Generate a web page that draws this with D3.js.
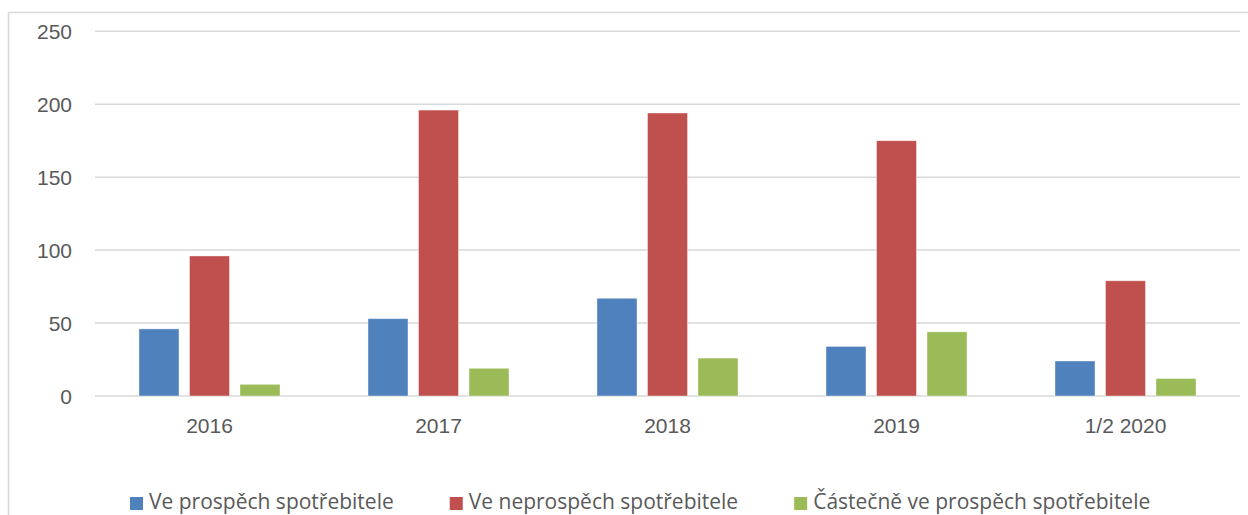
<!DOCTYPE html>
<html>
<head>
<meta charset="utf-8">
<script src="https://cdn.jsdelivr.net/npm/d3@7"></script>
<style>
    html, body { margin: 0; padding: 0; background: #fff; }
    svg { display: block; font-family: "Open Sans", sans-serif; }
    .grid line { stroke: #d9d9d9; stroke-width: 1.5; }
    .label { fill: #595959; font-size: 21px; }
</style>
</head>
<body>
<div id="chart"></div>
<script>
// Data
const categories = ['2016', '2017', '2018', '2019', '1/2 2020'];
const seriesNames = ['Ve prospěch spotřebitele', 'Ve neprospěch spotřebitele', 'Částečně ve prospěch spotřebitele'];
const inFavour = [46, 53, 67, 34, 24];
const against = [96, 196, 194, 175, 79];
const partly = [8, 19, 26, 44, 12];
const yTicks = [0, 50, 100, 150, 200, 250];
const colors = ['#4f81bd', '#c0504d', '#9bbb59'];

document.addEventListener('DOMContentLoaded', () => {
    const width = 1248;
    const height = 515;
    const margin = { left: 95, right: 8, top: 31.3, bottom: 119 };

    const svg = d3.select('#chart')
        .append('svg')
        .attr('width', width)
        .attr('height', height);

    // Outer chart border (runs off the bottom and right of the picture)
    svg.append('rect')
        .attr('x', 8.5)
        .attr('y', 12.5)
        .attr('width', width + 20)
        .attr('height', height + 20)
        .attr('fill', 'none')
        .attr('stroke', '#d9d9d9')
        .attr('stroke-width', 1.5);

    const values = [inFavour, against, partly];
    const rows = categories.map((c, i) => ({
        category: c,
        bars: seriesNames.map((s, j) => ({ series: s, value: values[j][i], idx: j }))
    }));

    const x0 = d3.scaleBand()
        .domain(categories)
        .range([margin.left, width - margin.right])
        .padding(0);

    const x1 = d3.scaleBand()
        .domain(seriesNames)
        .range([0, x0.bandwidth()])
        .paddingInner(0.208)
        .paddingOuter(0.871);

    const y = d3.scaleLinear()
        .domain([0, 250])
        .range([height - margin.bottom, margin.top]);

    // Gridlines
    svg.append('g')
        .attr('class', 'grid')
        .selectAll('line')
        .data(yTicks)
        .join('line')
        .attr('x1', margin.left)
        .attr('x2', width - margin.right)
        .attr('y1', d => y(d))
        .attr('y2', d => y(d));

    // Y axis labels
    const yAxis = d3.axisLeft(y).tickValues(yTicks).tickSize(0).tickPadding(23);
    svg.append('g')
        .attr('transform', `translate(${margin.left},0)`)
        .call(yAxis)
        .call(g => g.select('.domain').remove())
        .call(g => g.selectAll('text')
            .attr('class', 'label')
            .attr('font-family', null)
            .attr('font-size', null)
            .attr('fill', null)
            .attr('dy', '0.35em'));

    // Bars
    const group = svg.append('g')
        .selectAll('g')
        .data(rows)
        .join('g')
        .attr('transform', d => `translate(${x0(d.category)},0)`);

    group.selectAll('rect')
        .data(d => d.bars)
        .join('rect')
        .attr('x', d => x1(d.series))
        .attr('y', d => y(d.value))
        .attr('width', x1.bandwidth())
        .attr('height', d => y(0) - y(d.value))
        .attr('fill', d => colors[d.idx])
        .attr('stroke', 'rgba(255,255,255,0.5)')
        .attr('stroke-width', 0.8);

    // X axis labels
    const xAxis = d3.axisBottom(x0).tickSize(0).tickPadding(22);
    svg.append('g')
        .attr('transform', `translate(0,${y(0)})`)
        .call(xAxis)
        .call(g => g.select('.domain').remove())
        .call(g => g.selectAll('text')
            .attr('class', 'label')
            .attr('font-family', null)
            .attr('font-size', null)
            .attr('fill', null));

    // Legend
    const legend = svg.append('g').attr('transform', 'translate(130,0)');
    let offset = 0;
    seriesNames.forEach((name, i) => {
        const item = legend.append('g').attr('transform', `translate(${offset},0)`);
        item.append('rect')
            .attr('x', 0)
            .attr('y', 497)
            .attr('width', 13)
            .attr('height', 13)
            .attr('fill', colors[i]);
        const text = item.append('text')
            .attr('class', 'label')
            .attr('x', 19)
            .attr('y', 509)
            .style('font-size', '21px')
            .text(name);
        offset += 19 + text.node().getComputedTextLength() + 56;
    });
});
</script>
</body>
</html>
